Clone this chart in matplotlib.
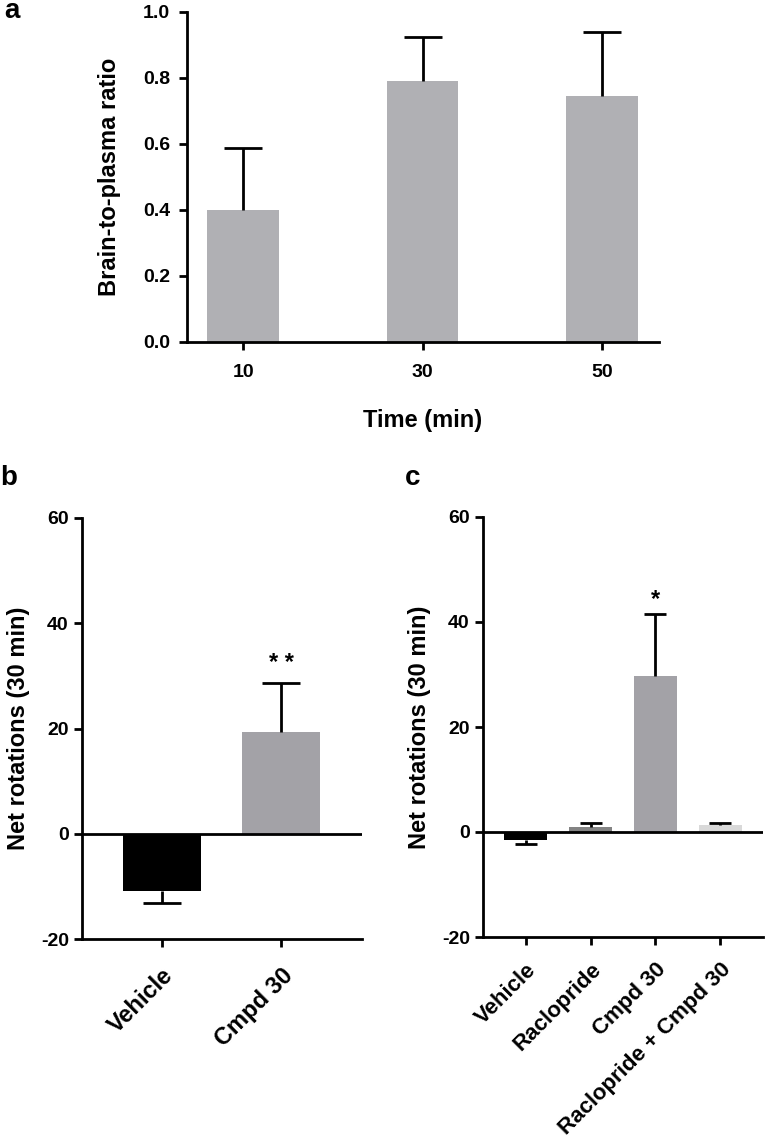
import matplotlib
matplotlib.use("Agg")
import matplotlib.pyplot as plt
import numpy as np

plt.rcParams['font.family'] = ['Liberation Sans', 'DejaVu Sans']
plt.rcParams['font.weight'] = 'bold'
plt.rcParams['axes.labelweight'] = 'bold'
plt.rcParams['axes.unicode_minus'] = False

# Panel a data
time_labels = ["10", "30", "50"]
ratio_mean = [0.40, 0.79, 0.745]
ratio_err = [0.188, 0.134, 0.194]

# Panel b data
b_labels = ["Vehicle", "Cmpd 30"]
b_mean = [-10.9, 19.4]
b_err = [2.2, 9.2]
b_colors = ["#000000", "#a3a2a7"]

# Panel c data
c_labels = ["Vehicle", "Raclopride", "Cmpd 30", "Raclopride + Cmpd 30"]
c_mean = [-1.5, 1.0, 29.7, 1.3]
c_err = [0.8, 0.7, 11.8, 0.5]
c_colors = ["#000000", "#838383", "#a3a2a7", "#d9d9d9"]

W, H = 765, 1144
fig = plt.figure(figsize=(W / 100, H / 100), dpi=100)

def frac(l, r, t, b):
    return [l / W, 1 - b / H, (r - l) / W, (b - t) / H]

def style(ax, ylab=14, xlab=14):
    for s in ["top", "right"]:
        ax.spines[s].set_visible(False)
    for s in ["left", "bottom"]:
        ax.spines[s].set_linewidth(2.0)
    ax.tick_params(width=2.0, length=6, direction="out")
    ax.tick_params(axis="y", labelsize=ylab)
    ax.tick_params(axis="x", labelsize=xlab)
    for t in ax.get_xticklabels() + ax.get_yticklabels():
        t.set_fontweight("bold")

def errbars(ax, x, mean, err, capsize):
    for xi, m, e in zip(x, mean, err):
        yerr = [[e], [0]] if m < 0 else [[0], [e]]
        eb = ax.errorbar([xi], [m], yerr=yerr, fmt="none", ecolor="black",
                         elinewidth=2, capsize=capsize, capthick=2, zorder=3)
        for cl in eb[1]:
            if np.allclose(cl.get_ydata(), m):
                cl.set_visible(False)

# ---- Panel a ----
axa = fig.add_axes(frac(187, 659, 12, 342))
xa = np.arange(len(time_labels))
axa.bar(xa, ratio_mean, width=0.4, color="#b0b0b4", zorder=2)
errbars(axa, xa, ratio_mean, ratio_err, 14)
axa.set_xlim(-0.313, 2.318)
axa.set_ylim(0, 1.0)
axa.set_yticks([0.0, 0.2, 0.4, 0.6, 0.8, 1.0])
axa.set_yticklabels(["0.0", "0.2", "0.4", "0.6", "0.8", "1.0"])
axa.set_xticks(xa)
axa.set_xticklabels(time_labels)
style(axa, ylab=14, xlab=14)
axa.tick_params(axis="x", pad=10)
axa.tick_params(axis="y", pad=6)
axa.set_ylabel("Brain-to-plasma ratio", fontsize=17, fontweight="bold", labelpad=16)
axa.set_xlabel("Time (min)", fontsize=17, fontweight="bold", labelpad=20)
fig.text(4 / W, 1 - 18 / H, "a", fontsize=20, fontweight="bold", va="baseline")

# ---- Panel b ----
axb = fig.add_axes(frac(82, 362, 518, 939))
xb = np.arange(len(b_labels))
axb.bar(xb, b_mean, width=0.66, color=b_colors, zorder=2)
errbars(axb, xb, b_mean, b_err, 14)
axb.axhline(0, color="black", lw=2, zorder=4)
axb.set_xlim(-0.67, 1.68)
axb.set_ylim(-20, 60)
axb.set_yticks([-20, 0, 20, 40, 60])
axb.set_xticks(xb)
axb.set_xticklabels(b_labels, rotation=45, ha="right", rotation_mode="anchor")
style(axb, ylab=14, xlab=17)
axb.tick_params(axis="x", pad=12)
axb.set_ylabel("Net rotations (30 min)", fontsize=17, fontweight="bold", labelpad=8)
axb.annotate("* *", (xb[1], b_mean[1] + b_err[1]), xytext=(0, 6),
             textcoords="offset points", ha="center", va="bottom",
             fontsize=17, fontweight="bold")
fig.text(0 / W, 1 - 485 / H, "b", fontsize=20, fontweight="bold", va="baseline")

# ---- Panel c ----
axc = fig.add_axes(frac(483, 763, 517, 937))
xc = np.arange(len(c_labels))
axc.bar(xc, c_mean, width=0.66, color=c_colors, zorder=2)
errbars(axc, xc, c_mean, c_err, 8)
axc.axhline(0, color="black", lw=2, zorder=4)
axc.set_xlim(-0.66, 3.66)
axc.set_ylim(-20, 60)
axc.set_yticks([-20, 0, 20, 40, 60])
axc.set_xticks(xc)
axc.set_xticklabels(c_labels, rotation=45, ha="right", rotation_mode="anchor")
style(axc, ylab=14, xlab=16)
axc.tick_params(axis="x", pad=10)
axc.set_ylabel("Net rotations (30 min)", fontsize=17, fontweight="bold", labelpad=8)
axc.annotate("*", (xc[2], c_mean[2] + c_err[2]), xytext=(0, 2),
             textcoords="offset points", ha="center", va="bottom",
             fontsize=17, fontweight="bold")
fig.text(405 / W, 1 - 485 / H, "c", fontsize=20, fontweight="bold", va="baseline")

fig.savefig("out.png", dpi=100)
